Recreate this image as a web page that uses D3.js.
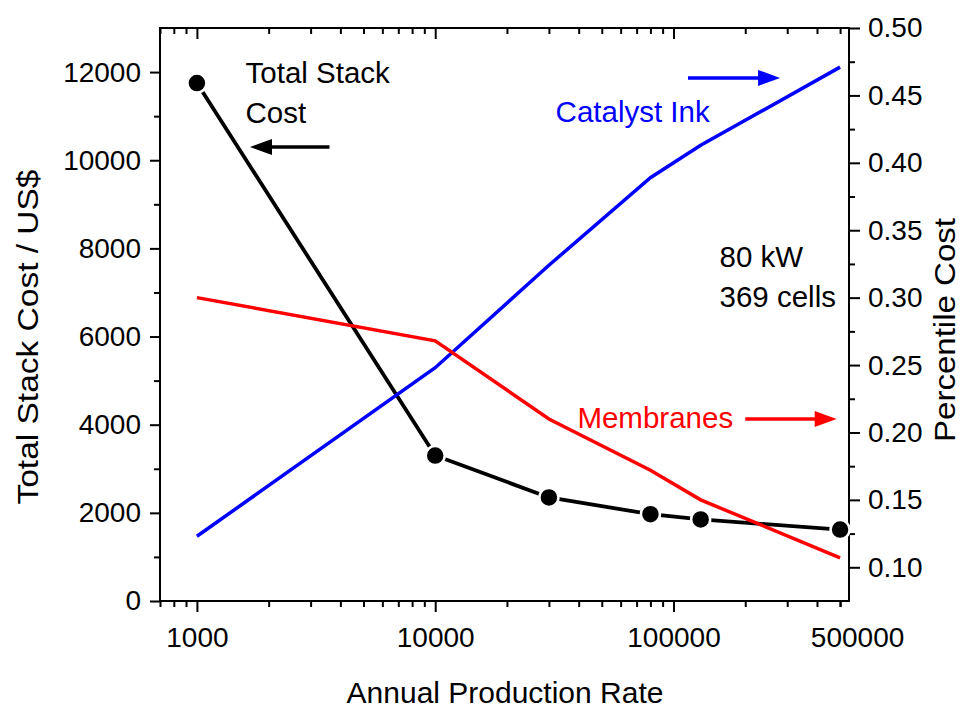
<!DOCTYPE html>
<html>
<head>
<meta charset="utf-8">
<script src="https://cdn.jsdelivr.net/npm/d3@7"></script>
<style>
  body { margin: 0; background: #fff; }
  svg { display: block; }
</style>
</head>
<body>
<script>
window.onload = function(){

// production rates (systems / year)
const years = [1000, 10000, 30000, 80000, 130000, 500000];
// total stack cost, US$ (left axis)
const stackCost = [11750, 3300, 2350, 1970, 1850, 1620];
// percentile cost (right axis)
const catalystInk = [0.123, 0.248, 0.324, 0.389, 0.413, 0.471];
const membranes = [0.300, 0.268, 0.210, 0.172, 0.150, 0.107];

// ticks
const xLabelTicks = [1000, 10000, 100000, 500000];
const xMajorTicks = [1000, 10000, 100000];
const xMinorTicks = [700, 800, 900, 2000, 3000, 4000, 5000, 6000, 7000, 8000, 9000,
  20000, 30000, 40000, 50000, 60000, 70000, 80000, 90000, 200000, 300000, 400000, 500000];
const yLeftTicks = [0, 2000, 4000, 6000, 8000, 10000, 12000];
const yLeftMinor = [1000, 3000, 5000, 7000, 9000, 11000];
const yRightTicks = [0.10, 0.15, 0.20, 0.25, 0.30, 0.35, 0.40, 0.45, 0.50];
const yRightMinor = [0.125, 0.175, 0.225, 0.275, 0.325, 0.375, 0.425, 0.475];

let width = 963,
	height = 710;

let left = 160, right = 849, top = 28, bottom = 601;
let font = "'Liberation Sans', Arial, Helvetica, sans-serif";

let svg = d3.select("body")
			.append("svg")
			.attr("width", width)
			.attr("height", height)
			.attr("font-family", font);

let x = d3.scaleLog().domain([700, 545000]).range([left, right]);
let yL = d3.scaleLinear().domain([0, 13000]).range([bottom, top]);
let yR = d3.scaleLinear().domain([0.075, 0.5]).range([bottom, top]);

function styleAxis(g){
	g.attr("font-family", font).attr("font-size", 28);
	g.selectAll("line").attr("stroke", "#000").attr("stroke-width", 2);
	g.select(".domain").remove();
	g.selectAll("text").attr("fill", "#000");
}

// bottom axis
svg.append("g")
	.attr("transform", "translate(0," + bottom + ")")
	.call(d3.axisBottom(x).tickValues(xLabelTicks).tickFormat(d3.format("d")).tickSize(11).tickPadding(15))
	.call(styleAxis)
	.call(g => g.selectAll(".tick line").attr("y2", d => xMajorTicks.includes(d) ? 11 : 6))
	.call(g => g.selectAll(".tick text").attr("dx", d => xMajorTicks.includes(d) ? 0 : 17));
svg.append("g")
	.attr("transform", "translate(0," + bottom + ")")
	.call(d3.axisBottom(x).tickValues(xMinorTicks).tickFormat("").tickSize(6))
	.call(styleAxis);

// top (mirror) ticks pointing inward
svg.append("g")
	.attr("transform", "translate(0," + top + ")")
	.call(d3.axisBottom(x).tickValues(xMajorTicks).tickFormat("").tickSize(11))
	.call(styleAxis);
svg.append("g")
	.attr("transform", "translate(0," + top + ")")
	.call(d3.axisBottom(x).tickValues(xMinorTicks).tickFormat("").tickSize(6))
	.call(styleAxis);

// left axis
svg.append("g")
	.attr("transform", "translate(" + left + ",0)")
	.call(d3.axisLeft(yL).tickValues(yLeftTicks).tickFormat(d3.format("d")).tickSize(10).tickPadding(9))
	.call(styleAxis);
svg.append("g")
	.attr("transform", "translate(" + left + ",0)")
	.call(d3.axisLeft(yL).tickValues(yLeftMinor).tickFormat("").tickSize(6))
	.call(styleAxis);

// right axis
svg.append("g")
	.attr("transform", "translate(" + right + ",0)")
	.call(d3.axisRight(yR).tickValues(yRightTicks).tickFormat(d3.format(".2f")).tickSize(11).tickPadding(8))
	.call(styleAxis);
svg.append("g")
	.attr("transform", "translate(" + right + ",0)")
	.call(d3.axisRight(yR).tickValues(yRightMinor).tickFormat("").tickSize(6))
	.call(styleAxis);

// frame
svg.append("rect")
	.attr("x", left).attr("y", top)
	.attr("width", right - left).attr("height", bottom - top)
	.attr("fill", "none").attr("stroke", "#000").attr("stroke-width", 2);

// axis titles
svg.append("text")
	.attr("transform", "translate(38,337) rotate(-90)")
	.attr("text-anchor", "middle")
	.attr("font-size", 30)
	.attr("textLength", 335)
	.attr("lengthAdjust", "spacingAndGlyphs")
	.text("Total Stack Cost / US$");

svg.append("text")
	.attr("transform", "translate(955,330) rotate(-90)")
	.attr("text-anchor", "middle")
	.attr("font-size", 30)
	.attr("textLength", 224)
	.attr("lengthAdjust", "spacingAndGlyphs")
	.text("Percentile Cost");

svg.append("text")
	.attr("x", 505)
	.attr("y", 703)
	.attr("text-anchor", "middle")
	.attr("font-size", 30)
	.text("Annual Production Rate");

// series
let lineL = d3.line().x((d, i) => x(years[i])).y(d => yL(d));
let lineR = d3.line().x((d, i) => x(years[i])).y(d => yR(d));

svg.append("path")
	.datum(stackCost)
	.attr("d", lineL)
	.attr("fill", "none").attr("stroke", "#000").attr("stroke-width", 3.8);

svg.append("path")
	.datum(catalystInk)
	.attr("d", lineR)
	.attr("fill", "none").attr("stroke", "#0000ff").attr("stroke-width", 3.5);

svg.append("path")
	.datum(membranes)
	.attr("d", lineR)
	.attr("fill", "none").attr("stroke", "#ff0000").attr("stroke-width", 3.5);

svg.selectAll(".dot")
	.data(stackCost)
	.enter().append("circle")
	.attr("class", "dot")
	.attr("cx", (d, i) => x(years[i]))
	.attr("cy", d => yL(d))
	.attr("r", 9.5)
	.attr("fill", "#000")
	.attr("stroke", "#fff")
	.attr("stroke-width", 2.5);

// annotations (placed in data coordinates)
function arrow(x1, x2, y, color){
	let px1 = x(x1), px2 = x(x2), dir = px2 > px1 ? 1 : -1;
	svg.append("line")
		.attr("x1", px1).attr("x2", px2 - dir * 18)
		.attr("y1", y).attr("y2", y)
		.attr("stroke", color).attr("stroke-width", 3.5);
	svg.append("path")
		.attr("d", "M" + px2 + "," + y + "L" + (px2 - dir * 22) + "," + (y - 8) + "L" + (px2 - dir * 22) + "," + (y + 8) + "Z")
		.attr("fill", color);
}

function label(xv, yv, txt, color){
	svg.append("text")
		.attr("x", x(xv)).attr("y", yv)
		.attr("font-size", 29.5)
		.attr("fill", color)
		.text(txt);
}

label(1600, yL(11750), "Total Stack", "#000");
label(1600, yL(10840), "Cost", "#000");
arrow(3600, 1670, yL(10300), "#000");

label(32000, yR(0.430), "Catalyst Ink", "#0000ff");
arrow(115000, 280000, yR(0.463), "#0000ff");

label(39500, yR(0.203), "Membranes", "#ff0000");
arrow(200000, 484000, yR(0.210), "#ff0000");

label(156000, yL(7580), "80 kW", "#000");
label(156000, yL(6670), "369 cells", "#000");

}
</script>
</body>
</html>
